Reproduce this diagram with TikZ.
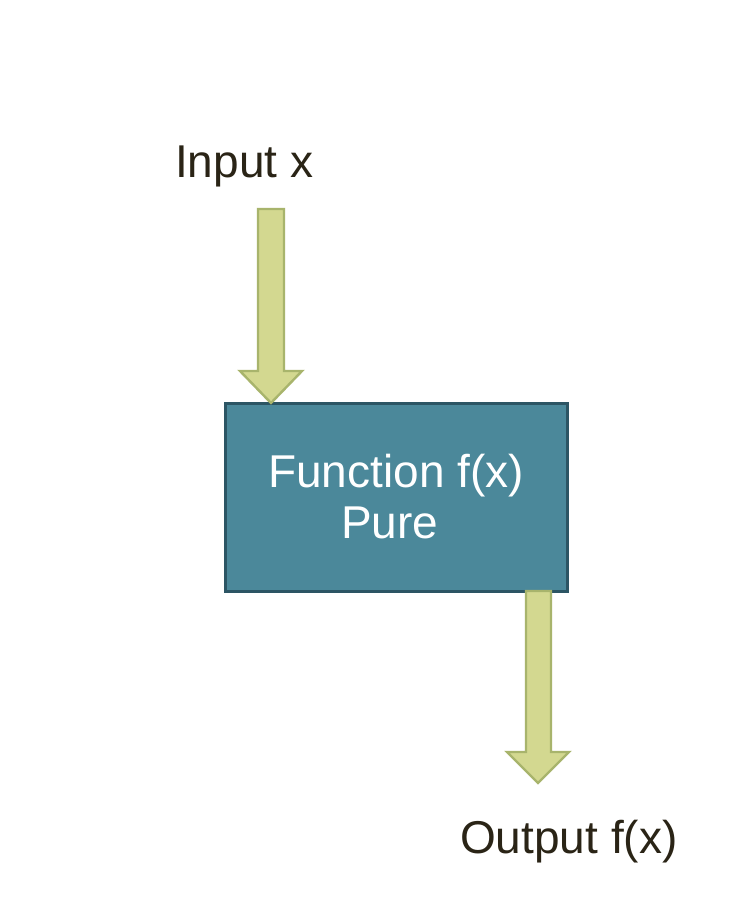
\documentclass[tikz,border=0pt]{standalone}
\usepackage{fontspec}
\setmainfont{Liberation Sans}
\begin{document}
\begin{tikzpicture}[x=1pt,y=-1pt,
  lbl/.style={inner sep=0pt,anchor=base west,text=txtc,font=\fontsize{46}{52}\selectfont},
  inlbl/.style={inner sep=0pt,anchor=base west,text=white,font=\fontsize{46}{52}\selectfont},
  fatarrow/.style={fill=arrfill,draw=arrdraw,line width=2.4pt,line join=miter}]
\definecolor{txtc}{HTML}{2A2416}
\definecolor{boxfill}{HTML}{4B889A}
\definecolor{boxdraw}{HTML}{2C5564}
\definecolor{arrfill}{HTML}{D3D890}
\definecolor{arrdraw}{HTML}{A8B46C}
\useasboundingbox (0,0) rectangle (744,900);
\fill[white] (0,0) rectangle (744,900);
% box
\node[draw=boxdraw,fill=boxfill,line width=2.5pt,minimum width=342pt,minimum height=188pt,inner sep=0pt,anchor=north west] (fn) at (224,402) {};
% arrows
\draw[fatarrow] (258,209) -- (284,209) -- (284,371) -- (302,371) -- (271,403) -- (240,371) -- (258,371) -- cycle;
\draw[fatarrow] (526,591) -- (551,591) -- (551,752) -- (569,752) -- (538,783) -- (507,752) -- (526,752) -- cycle;
% texts
\node[lbl] (in) at (175,177) {Input x};
\node[lbl] (out) at (460,853) {Output f(x)};
\node[inlbl] (t1) at (268,487) {Function f(x)};
\node[inlbl] (t2) at (341,538) {Pure};
\end{tikzpicture}
\end{document}
